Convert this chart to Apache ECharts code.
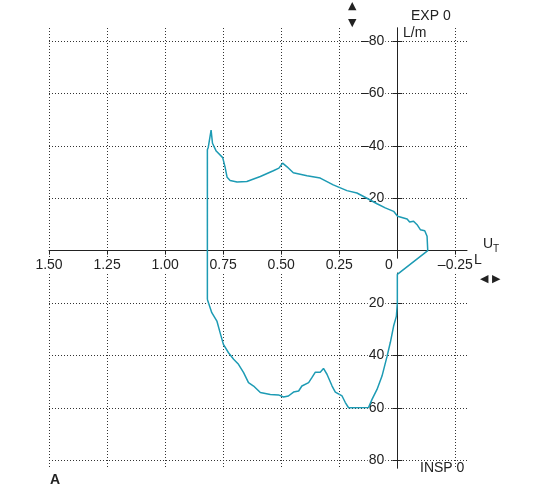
<!DOCTYPE html>
<html>
<head>
<meta charset="utf-8">
<script src="https://cdn.jsdelivr.net/npm/echarts@6/dist/echarts.min.js"></script>
<style>
  html, body { margin: 0; padding: 0; background: #fff; }
  #chart { width: 547px; height: 497px; }
</style>
</head>
<body>
<div id="chart"></div>
<script>
// volume (L) and flow (L/m) of the loop
const volume = [
  0.818, 0.818, 0.814, 0.802, 0.796, 0.78, 0.752, 0.742, 0.733, 0.72,
  0.69, 0.648, 0.59, 0.534, 0.51, 0.494, 0.475, 0.448, 0.389, 0.332,
  0.276, 0.217, 0.174, 0.131, 0.0875, 0.052, 0.016, -0.001, -0.006, -0.042,
  -0.053, -0.07, -0.085, -0.099, -0.118, -0.128, -0.131, 0, 0, 0.004,
  0.016, 0.03, 0.044, 0.066, 0.0875, 0.109, 0.124, 0.21, 0.224, 0.238,
  0.267, 0.281, 0.303, 0.318, 0.332, 0.353, 0.368, 0.382, 0.411, 0.425,
  0.447, 0.469, 0.49, 0.512, 0.547, 0.59, 0.619, 0.641, 0.662, 0.684,
  0.705, 0.727, 0.749, 0.763, 0.777, 0.799, 0.818
]
const flow = [
  18.7, -38.5, -39.5, -46, -41, -38, -35.5, -32, -28, -26.8,
  -26.2, -26.4, -28.3, -30.5, -31.5, -33.4, -32, -29.7, -28.6, -27.7,
  -25.1, -22.9, -22, -20, -17.9, -16.3, -15, -13.1, -12.4, -12.1,
  -10.9, -11.2, -9.9, -8, -7.6, -5.5, 0, 9.1, 20, 25,
  28.8, 35, 40.3, 47.9, 53, 56.8, 59.9, 60, 58, 55.5,
  54, 51.7, 47.2, 45, 46.4, 46.4, 48.5, 50.4, 51.7, 53.6,
  54, 55.5, 55.9, 55.1, 54.9, 54.2, 51.7, 50.4, 46.6, 43.4,
  41.5, 39, 35.8, 31.4, 26.9, 23.7, 18.7
]
const xTicks = [1.5, 1.25, 1, 0.75, 0.5, 0.25, 0, -0.25]
const yTicks = [-80, -60, -40, -20, 20, 40, 60, 80]

const chart = echarts.init(document.getElementById('chart'))
const font = 'Liberation Sans, Arial, sans-serif'
const ink = '#222'
const grid = { left: 49, right: 80, top: 28, bottom: 29 }

const yBase = {
  type: 'value',
  inverse: true,
  min: -85,
  max: 83,
  position: 'left',
  axisLine: { onZero: false, lineStyle: { color: ink, width: 1 } }
}

chart.setOption({
  animation: false,
  grid: grid,
  xAxis: {
    type: 'value',
    inverse: true,
    min: -0.3,
    max: 1.5,
    position: 'bottom',
    axisLine: { onZero: false, lineStyle: { color: ink, width: 1 } },
    axisTick: { customValues: xTicks, length: 4, lineStyle: { color: ink } },
    axisLabel: {
      customValues: xTicks,
      margin: 8,
      fontFamily: font,
      fontSize: 14,
      color: ink,
      backgroundColor: '#fff',
      formatter: v => {
        if (v === 0) return '{z|0}'
        const s = Math.abs(v).toFixed(2)
        return v < 0 ? '–' + s : s
      },
      rich: { z: { fontFamily: font, fontSize: 14, color: ink, padding: [0, 17, 0, 0] } }
    },
    splitLine: { show: true, lineStyle: { color: '#333', type: [1, 2], width: 1 } }
  },
  yAxis: [
    Object.assign({}, yBase, {
      axisTick: { customValues: yTicks, length: 5, lineStyle: { color: ink } },
      axisLabel: {
        customValues: yTicks,
        margin: 12,
        fontFamily: font,
        fontSize: 14,
        color: ink,
        backgroundColor: '#fff',
        padding: [0, 1],
        formatter: v => (v < 0 ? '–' + Math.abs(v) : String(v))
      },
      splitLine: { show: true, lineStyle: { color: '#333', type: [1, 2], width: 1 } }
    }),
    Object.assign({}, yBase, {
      axisTick: { customValues: yTicks, length: 5, inside: true, lineStyle: { color: ink } },
      axisLabel: { show: false },
      splitLine: { show: false }
    })
  ],
  series: [{
    type: 'line',
    yAxisIndex: 0,
    data: volume.map((v, i) => [v, flow[i]]),
    showSymbol: false,
    symbol: 'none',
    lineStyle: { color: '#1d9bb4', width: 1.5 },
    z: 5
  }],
  graphic: [
    { type: 'text', left: 348, top: 1, style: { text: '▲', font: '11px DejaVu Sans', fill: ink } },
    { type: 'text', left: 348, top: 18, style: { text: '▼', font: '11px DejaVu Sans', fill: ink } },
    { type: 'text', left: 411, top: 9, style: { text: 'EXP 0', font: '14px ' + font, fill: ink } },
    { type: 'text', left: 403, top: 26, style: { text: 'L/m', font: '14px ' + font, fill: ink } },
    { type: 'text', left: 483, top: 237, style: { text: 'U', font: '14px ' + font, fill: ink } },
    { type: 'text', left: 493, top: 244, style: { text: 'T', font: '10px ' + font, fill: ink } },
    { type: 'text', left: 474, top: 253, style: { text: 'L', font: '14px ' + font, fill: ink } },
    { type: 'text', left: 480, top: 274, style: { text: '◀ ▶', font: '11px DejaVu Sans', fill: ink } },
    { type: 'text', left: 420, top: 461, style: { text: 'INSP 0', font: '14px ' + font, fill: ink } },
    { type: 'text', left: 50, top: 473, style: { text: 'A', font: 'bold 14px ' + font, fill: ink } }
  ]
})

// move both axes onto the zero lines of each other
const origin = chart.convertToPixel({ xAxisIndex: 0, yAxisIndex: 0 }, [0, 0])
const bottomEdge = 497 - grid.bottom
const leftEdge = grid.left
chart.setOption({
  xAxis: { offset: -(bottomEdge - origin[1]) },
  yAxis: [
    { offset: -(origin[0] - leftEdge) },
    { offset: -(origin[0] - leftEdge) }
  ]
})
</script>
</body>
</html>
